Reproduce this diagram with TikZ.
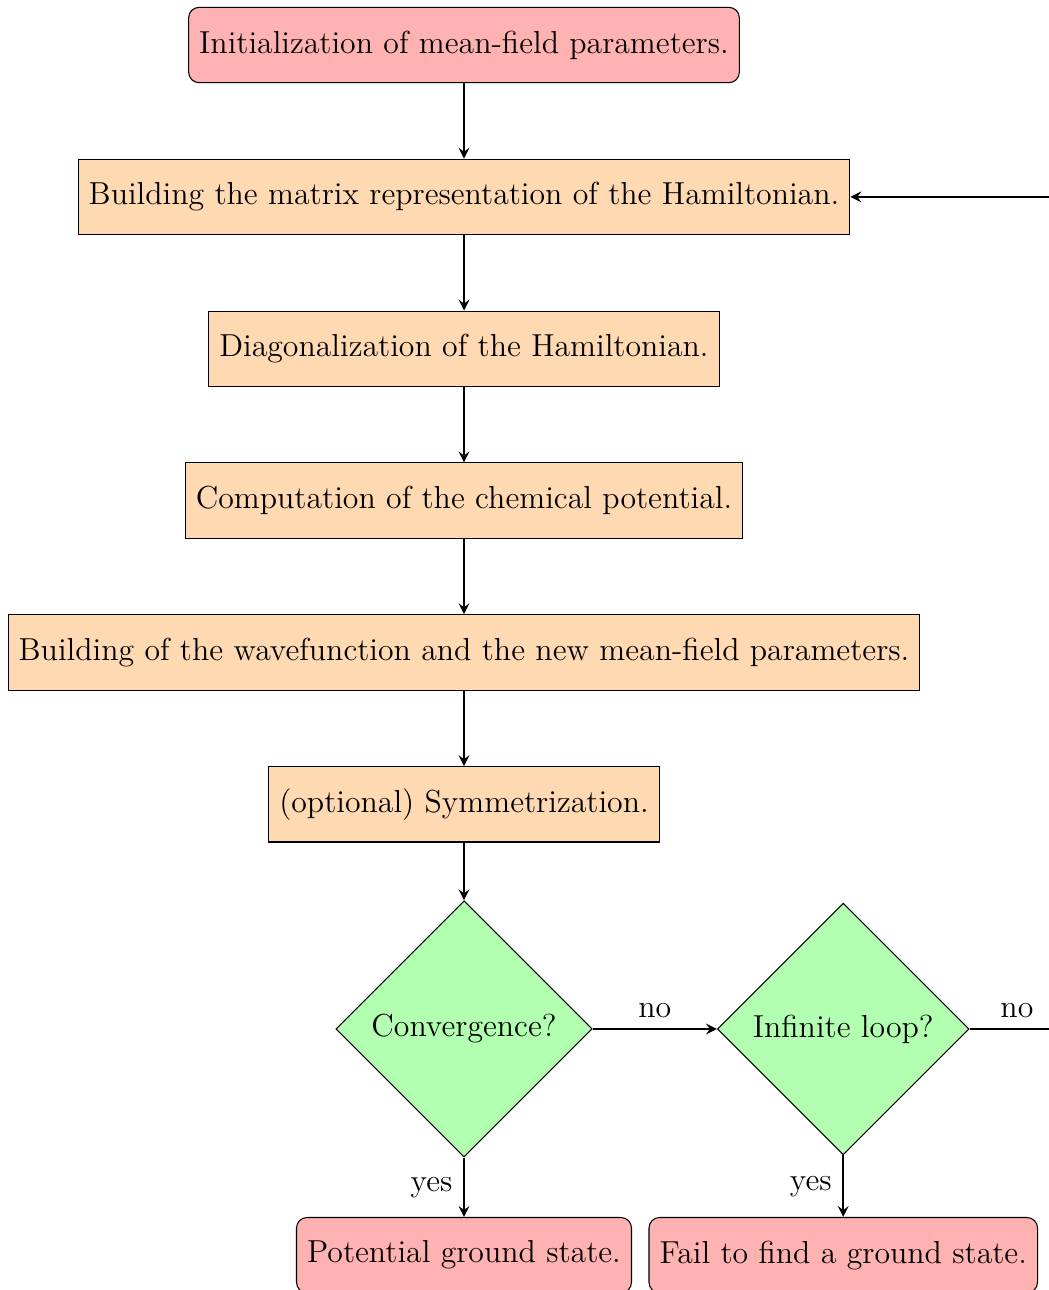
\documentclass[12pt,tikz,border=0pt]{standalone}
\usepackage{amsmath}
\usetikzlibrary{shapes.geometric,arrows,positioning}

\tikzset{
  startstop/.style={rectangle, rounded corners, minimum width=3cm, minimum height=1cm, text centered, draw=black, fill=red!30},
  process/.style={rectangle, minimum width=3cm, minimum height=1cm, text centered, draw=black, fill=orange!30},
  decision/.style={diamond, aspect=1, text centered, draw=black, fill=green!30},
  arrow/.style={thick, ->, >=stealth}
}

\begin{document}
\begin{tikzpicture}[node distance=1cm]

    % Frame of the page
    \useasboundingbox (-6.154,0.597) rectangle (7.758,-16.512);

    % Main chain
    \node (init) [startstop] at (0,0) {Initialization of mean-field parameters.};
    \node (build) [process, below=of init] {Building the matrix representation of the Hamiltonian.};
    \node (diag) [process, below=of build] {Diagonalization of the Hamiltonian.};
    \node (chem) [process, below=of diag] {Computation of the chemical potential.};
    \node (wave) [process, below=of chem] {Building of the wavefunction and the new mean-field parameters.};
    \node (sym) [process, below=of wave] {(optional) Symmetrization.};

    % Decisions
    \node (conv) [decision] at (0,-13.05) {Convergence?};
    \node (inf) [decision] at (5.03,-13.05) {Infinite loop?};

    % Outcomes
    \node (ground) [startstop] at (0,-16.05) {Potential ground state.};
    \node (fail) [startstop] at (5.03,-16.05) {Fail to find a ground state.};

    % Loop back corner
    \coordinate (back) at (7.96,-13.05);

    % Arrows
    \draw [arrow] (init) -- (build);
    \draw [arrow] (build) -- (diag);
    \draw [arrow] (diag) -- (chem);
    \draw [arrow] (chem) -- (wave);
    \draw [arrow] (wave) -- (sym);
    \draw [arrow] (sym) -- (conv);
    \draw [arrow] (conv) -- node[anchor=south] {no} (inf);
    \draw [arrow] (conv) -- node[anchor=east] {yes} (ground);
    \draw [arrow] (inf) -- node[anchor=east] {yes} (fail);
    \draw [arrow] (inf) -- node[anchor=south] {no} (back) |- (build);

\end{tikzpicture}
\end{document}
